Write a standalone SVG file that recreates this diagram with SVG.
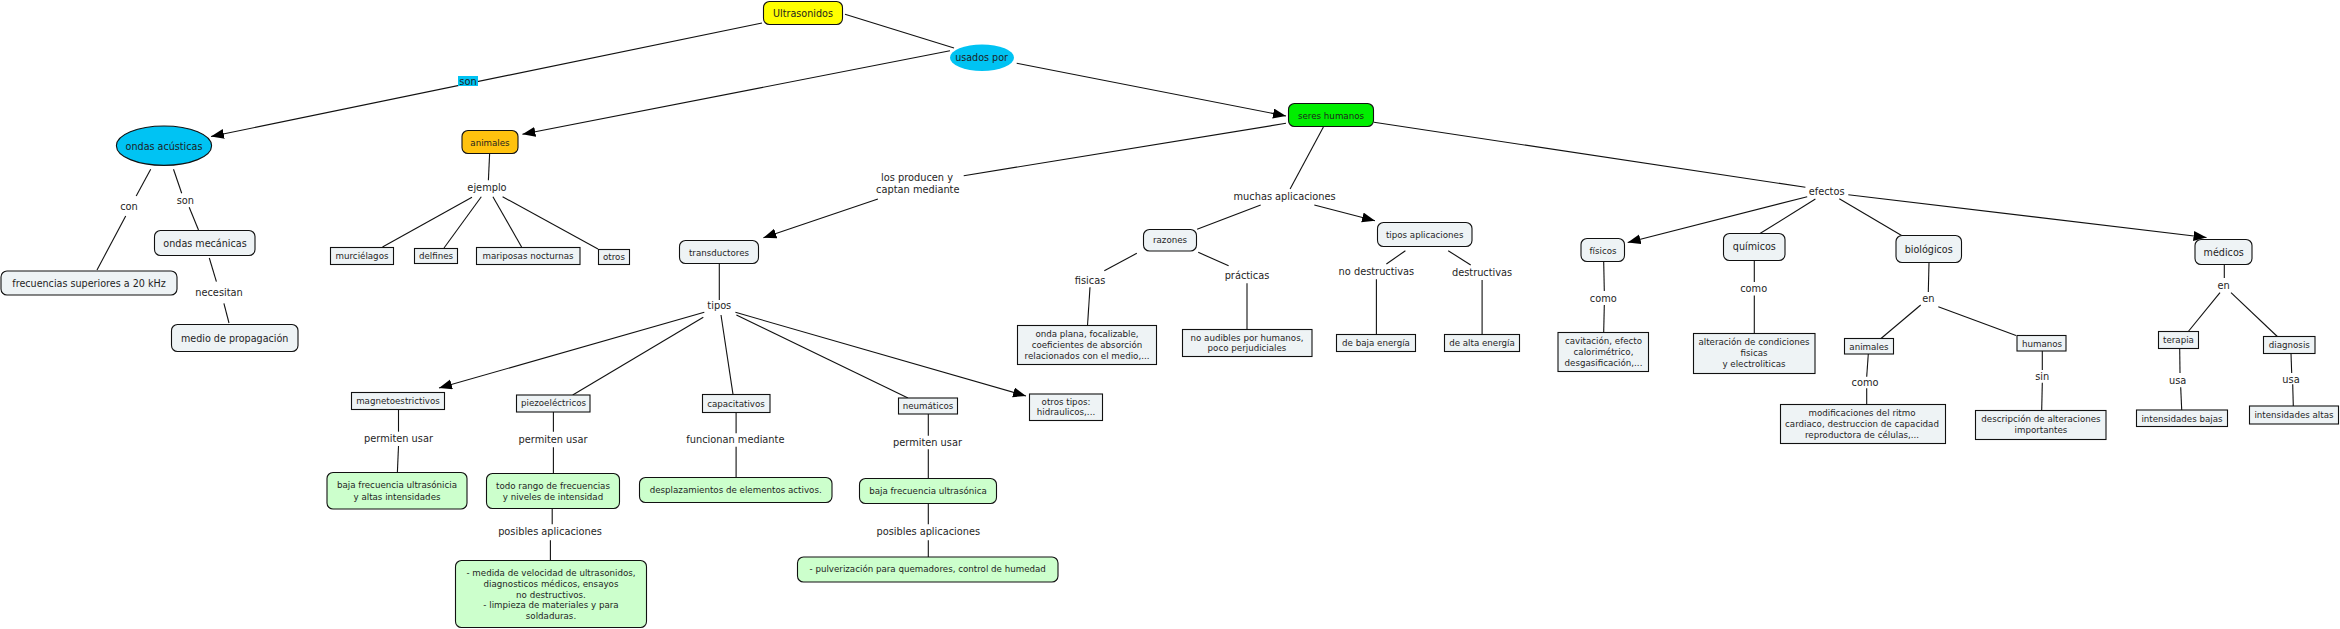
<svg xmlns="http://www.w3.org/2000/svg" width="2340" height="629" viewBox="0 0 2340 629">
<style>
text{font-family:"DejaVu Sans",Verdana,sans-serif;fill:#1e1e1e;text-anchor:middle;dominant-baseline:central}
.t{font-size:9.6px}
.ts{font-size:8.7px}
.l{font-size:9.8px}
.n{fill:#eef3f5;stroke:#111;stroke-width:1.1}
.g{fill:#ccffcc;stroke:#111;stroke-width:1.1}
.c line{stroke:#111;stroke-width:1.1}
.c .a{marker-end:url(#ah)}
</style>
<defs>
<marker id="ah" markerUnits="userSpaceOnUse" markerWidth="14" markerHeight="11" refX="13" refY="5" orient="auto">
<path d="M0,0 L13,5 L0,10 z" fill="#000"/>
</marker>
</defs>
<rect width="2340" height="629" fill="#fff"/>
<g id="connectors" class="c">
<line class="a" x1="762" y1="23" x2="211" y2="136.5"/>
<line x1="845" y1="14.3" x2="954" y2="48"/>
<line class="a" x1="950" y1="50.7" x2="522.4" y2="134.3"/>
<line class="a" x1="1016.7" y1="63.3" x2="1286" y2="116"/>
<line x1="150.7" y1="169.3" x2="136.2" y2="196"/>
<line x1="125.7" y1="216" x2="97" y2="270"/>
<line x1="173.5" y1="169.3" x2="181.7" y2="193.3"/>
<line x1="189.2" y1="207.3" x2="198.5" y2="230"/>
<line x1="209.3" y1="258" x2="216.4" y2="281.7"/>
<line x1="223.9" y1="303.3" x2="229" y2="323"/>
<line x1="489.6" y1="154" x2="488.4" y2="180.3"/>
<line x1="472" y1="197.3" x2="382.5" y2="247"/>
<line x1="481.3" y1="196.7" x2="444" y2="248"/>
<line x1="492.9" y1="196.7" x2="521.6" y2="247"/>
<line x1="502.6" y1="196.7" x2="598" y2="249"/>
<line x1="1286" y1="123.3" x2="963.7" y2="175.7"/>
<line class="a" x1="877.9" y1="199" x2="763.4" y2="237.7"/>
<line x1="719.3" y1="264" x2="719.3" y2="300"/>
<line class="a" x1="704.3" y1="312.3" x2="439" y2="388"/>
<line x1="703.3" y1="317.3" x2="572.7" y2="395"/>
<line x1="721" y1="315" x2="733" y2="394.3"/>
<line x1="736.4" y1="315" x2="908" y2="398"/>
<line class="a" x1="735.4" y1="312.3" x2="1026" y2="396"/>
<line x1="398.5" y1="409.5" x2="398.5" y2="431.7"/>
<line x1="398.5" y1="446" x2="397.4" y2="472.5"/>
<line x1="553.4" y1="412" x2="553.4" y2="431.7"/>
<line x1="553.4" y1="447.3" x2="553.4" y2="473.5"/>
<line x1="552.2" y1="508.5" x2="552.2" y2="524.3"/>
<line x1="550.4" y1="540.3" x2="550.4" y2="560.5"/>
<line x1="736.1" y1="412.5" x2="736.1" y2="433.3"/>
<line x1="736.1" y1="446.7" x2="736.1" y2="477.5"/>
<line x1="928.3" y1="414" x2="928.3" y2="435.7"/>
<line x1="928.3" y1="449.3" x2="928.3" y2="478.5"/>
<line x1="928.3" y1="503.5" x2="928.3" y2="524.3"/>
<line x1="928.3" y1="540.3" x2="928.3" y2="557"/>
<line x1="1323.4" y1="127" x2="1290.1" y2="189"/>
<line x1="1260.7" y1="205" x2="1197.1" y2="229.3"/>
<line class="a" x1="1314.3" y1="205" x2="1375" y2="220.7"/>
<line x1="1136.8" y1="253.3" x2="1104.3" y2="270.7"/>
<line x1="1090" y1="287.3" x2="1087.5" y2="325.5"/>
<line x1="1198.2" y1="252.3" x2="1228.6" y2="265.7"/>
<line x1="1247" y1="283.3" x2="1247" y2="329.5"/>
<line x1="1405.4" y1="250.7" x2="1386.4" y2="264"/>
<line x1="1376.4" y1="279.3" x2="1376.4" y2="334.5"/>
<line x1="1448.2" y1="250.7" x2="1470.7" y2="265"/>
<line x1="1482.1" y1="280" x2="1482.1" y2="334.5"/>
<line x1="1374" y1="122.3" x2="1805.4" y2="187.3"/>
<line class="a" x1="1807.2" y1="196.7" x2="1627.7" y2="242.5"/>
<line x1="1815.4" y1="199" x2="1760" y2="233.5"/>
<line x1="1839.3" y1="198.7" x2="1901.6" y2="235.5"/>
<line class="a" x1="1848.3" y1="194.7" x2="2206.5" y2="237.5"/>
<line x1="1603.7" y1="262" x2="1604.3" y2="291"/>
<line x1="1604.3" y1="305" x2="1603.7" y2="332.5"/>
<line x1="1754.3" y1="260.5" x2="1754.3" y2="282"/>
<line x1="1754.3" y1="295.5" x2="1754.3" y2="333.5"/>
<line x1="1929" y1="263" x2="1928.3" y2="292"/>
<line x1="1920.7" y1="305" x2="1881" y2="338.5"/>
<line x1="1938.3" y1="306.7" x2="2016" y2="335.5"/>
<line x1="1868.3" y1="354" x2="1866.7" y2="376.7"/>
<line x1="1866.7" y1="388.3" x2="1866.7" y2="404.5"/>
<line x1="2042.3" y1="351" x2="2042.3" y2="370"/>
<line x1="2042.3" y1="382.7" x2="2041.7" y2="410.5"/>
<line x1="2224.3" y1="264.5" x2="2224.3" y2="278"/>
<line x1="2220" y1="292.7" x2="2188.3" y2="331.5"/>
<line x1="2231" y1="292.7" x2="2277.3" y2="336.5"/>
<line x1="2179.7" y1="348.5" x2="2180" y2="373"/>
<line x1="2180.7" y1="387.3" x2="2181.7" y2="410"/>
<line x1="2291" y1="353.5" x2="2291.7" y2="373"/>
<line x1="2292.7" y1="384.3" x2="2293.3" y2="406"/>
</g>
<g id="labels">
<rect x="458" y="76" width="20" height="10" fill="#00c3f3"/>
<text class="l" x="468" y="81">son</text>
<text class="l" x="129" y="206">con</text>
<text class="l" x="185.4" y="200.3">son</text>
<text class="l" x="219" y="292">necesitan</text>
<text class="l" x="487" y="187.3">ejemplo</text>
<text class="l" x="917" y="177">los producen y</text>
<text class="l" x="917.8" y="189.3">captan mediante</text>
<text class="l" x="719.3" y="305.5">tipos</text>
<text class="l" x="398.5" y="438">permiten usar</text>
<text class="l" x="553" y="439">permiten usar</text>
<text class="l" x="550" y="531.5">posibles aplicaciones</text>
<text class="l" x="735.4" y="439.5">funcionan mediante</text>
<text class="l" x="927.5" y="442">permiten usar</text>
<text class="l" x="928.3" y="531.5">posibles aplicaciones</text>
<text class="l" x="1284.6" y="196">muchas aplicaciones</text>
<text class="l" x="1090" y="280">fisicas</text>
<text class="l" x="1247" y="275">prácticas</text>
<text class="l" x="1376.4" y="271.7">no destructivas</text>
<text class="l" x="1482.1" y="272.7">destructivas</text>
<text class="l" x="1826.6" y="191.3">efectos</text>
<text class="l" x="1603.3" y="298">como</text>
<text class="l" x="1753.7" y="288.7">como</text>
<text class="l" x="1928.3" y="298.7">en</text>
<text class="l" x="1865" y="382.7">como</text>
<text class="l" x="2042.3" y="376.7">sin</text>
<text class="l" x="2223.7" y="285">en</text>
<text class="l" x="2177.7" y="380.3">usa</text>
<text class="l" x="2291" y="379">usa</text>
</g>
<g id="n-ultrasonidos"><rect x="763.5" y="1.5" width="79" height="23" rx="6" fill="#ffff00" stroke="#111" stroke-width="1.1"/><text class="t" x="803" y="13.3">Ultrasonidos</text></g>
<g id="n-usados"><ellipse cx="982" cy="57.7" rx="32" ry="13.3" fill="#00c3f3"/><text class="t" x="981.6" y="57.5">usados por</text></g>
<g id="n-ondas-acusticas"><ellipse cx="164" cy="145.7" rx="47.6" ry="19.7" fill="#00c3f3" stroke="#111" stroke-width="1.1"/><text class="t" x="164" y="146.5">ondas acústicas</text></g>
<g id="n-animales"><rect x="462" y="130.5" width="56" height="23" rx="6" fill="#ffc20e" stroke="#111" stroke-width="1.1"/><text class="ts" x="490" y="142.5">animales</text></g>
<g id="n-seres"><rect x="1288.5" y="103.5" width="85" height="23" rx="6" fill="#00ee00" stroke="#111" stroke-width="1.1"/><text class="ts" x="1331" y="115.5">seres humanos</text></g>
<g id="n-frecuencias"><rect class="n" x="1" y="271" width="176" height="24" rx="6"/><text class="t" x="89" y="283">frecuencias superiores a 20 kHz</text></g>
<g id="n-ondas-mecanicas"><rect class="n" x="154.5" y="230.5" width="100.5" height="25" rx="6"/><text class="t" x="205" y="243.5">ondas mecánicas</text></g>
<g id="n-medio"><rect class="n" x="171.5" y="324.5" width="126.5" height="27" rx="6"/><text class="t" x="234.7" y="338">medio de propagación</text></g>
<g id="n-murcielagos"><rect class="n" x="330.5" y="247.5" width="63" height="17"/><text class="ts" x="362" y="255.5">murciélagos</text></g>
<g id="n-delfines"><rect class="n" x="414.5" y="248.5" width="43" height="15"/><text class="ts" x="436" y="256">delfines</text></g>
<g id="n-mariposas"><rect class="n" x="476.5" y="247.5" width="103.5" height="17"/><text class="ts" x="528" y="255.5">mariposas nocturnas</text></g>
<g id="n-otros"><rect class="n" x="598.5" y="249.5" width="31" height="15"/><text class="ts" x="614" y="257">otros</text></g>
<g id="n-transductores"><rect class="n" x="679.5" y="240.5" width="79" height="23" rx="6"/><text class="ts" x="719" y="252.5">transductores</text></g>
<g id="n-magneto"><rect class="n" x="351.5" y="392.5" width="93" height="17"/><text class="ts" x="398" y="400.7">magnetoestrictivos</text></g>
<g id="n-piezo"><rect class="n" x="516.5" y="395" width="73.5" height="17"/><text class="ts" x="553.5" y="403.3">piezoeléctricos</text></g>
<g id="n-capacitativos"><rect class="n" x="702.5" y="394.5" width="67.5" height="18"/><text class="ts" x="736" y="403.5">capacitativos</text></g>
<g id="n-neumaticos"><rect class="n" x="898.5" y="398" width="59" height="16"/><text class="ts" x="928" y="406.3">neumáticos</text></g>
<g id="n-otros-tipos"><rect class="n" x="1029.5" y="394" width="73" height="26.5"/><text class="ts" x="1066" y="401.5">otros tipos:</text><text class="ts" x="1066" y="412">hidraulicos,...</text></g>
<g id="n-baja-ultrasonicia"><rect class="g" x="327" y="472.5" width="140" height="36.5" rx="6"/><text class="ts" x="397" y="485">baja frecuencia ultrasónicia</text><text class="ts" x="397" y="496.5">y altas intensidades</text></g>
<g id="n-todo-rango"><rect class="g" x="486.5" y="473.5" width="133" height="35" rx="6"/><text class="ts" x="553" y="485.5">todo rango de frecuencias</text><text class="ts" x="553" y="496.5">y niveles de intensidad</text></g>
<g id="n-medida"><rect class="g" x="455.5" y="560.5" width="191" height="67" rx="6"/><text class="ts" x="551" y="572.7">- medida de velocidad de ultrasonidos,</text><text class="ts" x="551" y="583.6">diagnosticos médicos, ensayos</text><text class="ts" x="551" y="594.5">no destructivos.</text><text class="ts" x="551" y="605.4">- limpieza de materiales y para</text><text class="ts" x="551" y="616.3">soldaduras.</text></g>
<g id="n-desplazamientos"><rect class="g" x="639.5" y="477.5" width="192.5" height="25" rx="6"/><text class="ts" x="735.7" y="490">desplazamientos de elementos activos.</text></g>
<g id="n-baja-ultrasonica"><rect class="g" x="859.5" y="478.5" width="137" height="25" rx="6"/><text class="ts" x="928" y="490.5">baja frecuencia ultrasónica</text></g>
<g id="n-pulverizacion"><rect class="g" x="797.5" y="557" width="260.5" height="25" rx="6"/><text class="ts" x="927.7" y="569">- pulverización para quemadores, control de humedad</text></g>
<g id="n-razones"><rect class="n" x="1143.5" y="229.5" width="53" height="21.5" rx="6"/><text class="ts" x="1170" y="240">razones</text></g>
<g id="n-tipos-aplicaciones"><rect class="n" x="1377.5" y="222.5" width="94.5" height="24" rx="6"/><text class="ts" x="1424.7" y="234.5">tipos aplicaciones</text></g>
<g id="n-onda-plana"><rect class="n" x="1017.5" y="325.5" width="139" height="39"/><text class="ts" x="1087" y="334">onda plana, focalizable,</text><text class="ts" x="1087" y="345">coeficientes de absorción</text><text class="ts" x="1087" y="356">relacionados con el medio,...</text></g>
<g id="n-no-audibles"><rect class="n" x="1182.5" y="329.5" width="129.5" height="27"/><text class="ts" x="1247" y="337.5">no audibles por humanos,</text><text class="ts" x="1247" y="348.3">poco perjudiciales</text></g>
<g id="n-baja-energia"><rect class="n" x="1336.5" y="334.5" width="79" height="17"/><text class="ts" x="1376" y="342.7">de baja energía</text></g>
<g id="n-alta-energia"><rect class="n" x="1444.5" y="334.5" width="75" height="17"/><text class="ts" x="1482" y="342.7">de alta energía</text></g>
<g id="n-fisicos"><rect class="n" x="1581" y="238.5" width="43.5" height="23" rx="6"/><text class="ts" x="1603" y="250.5">físicos</text></g>
<g id="n-quimicos"><rect class="n" x="1723.5" y="233.5" width="61.5" height="27" rx="6"/><text class="t" x="1754.3" y="246.7">químicos</text></g>
<g id="n-biologicos"><rect class="n" x="1896" y="235.5" width="65.5" height="27" rx="6"/><text class="t" x="1928.7" y="249">biológicos</text></g>
<g id="n-medicos"><rect class="n" x="2195" y="239.5" width="57" height="25" rx="6"/><text class="t" x="2223.7" y="252.5">médicos</text></g>
<g id="n-cavitacion"><rect class="n" x="1558" y="332.5" width="90.5" height="39"/><text class="ts" x="1603.5" y="340.5">cavitación, efecto</text><text class="ts" x="1603.5" y="351.7">calorimétrico,</text><text class="ts" x="1603.5" y="362.7">desgasificación,...</text></g>
<g id="n-alteracion"><rect class="n" x="1693.5" y="333.5" width="121.5" height="40"/><text class="ts" x="1754" y="342.3">alteración de condiciones</text><text class="ts" x="1754" y="353.3">fisicas</text><text class="ts" x="1754" y="364.3">y electroliticas</text></g>
<g id="n-animales2"><rect class="n" x="1844.5" y="338.5" width="49" height="15.5"/><text class="ts" x="1869" y="346.5">animales</text></g>
<g id="n-humanos"><rect class="n" x="2017" y="335.5" width="49" height="15.5"/><text class="ts" x="2042" y="343.5">humanos</text></g>
<g id="n-modificaciones"><rect class="n" x="1780.5" y="404.5" width="165" height="39"/><text class="ts" x="1862" y="413">modificaciones del ritmo</text><text class="ts" x="1862" y="424">cardiaco, destruccion de capacidad</text><text class="ts" x="1862" y="435">reproductora de células,...</text></g>
<g id="n-descripcion"><rect class="n" x="1975.5" y="410.5" width="130.5" height="29"/><text class="ts" x="2041" y="419.3">descripción de alteraciones</text><text class="ts" x="2041" y="430">importantes</text></g>
<g id="n-terapia"><rect class="n" x="2158.5" y="331.5" width="40" height="17"/><text class="ts" x="2178.5" y="339.5">terapia</text></g>
<g id="n-diagnosis"><rect class="n" x="2263.5" y="336.5" width="51.5" height="17"/><text class="ts" x="2289.3" y="345">diagnosis</text></g>
<g id="n-int-bajas"><rect class="n" x="2136.5" y="410" width="91" height="16.5"/><text class="ts" x="2182" y="418.5">intensidades bajas</text></g>
<g id="n-int-altas"><rect class="n" x="2249.5" y="406" width="89" height="18"/><text class="ts" x="2294" y="415">intensidades altas</text></g>
</svg>
